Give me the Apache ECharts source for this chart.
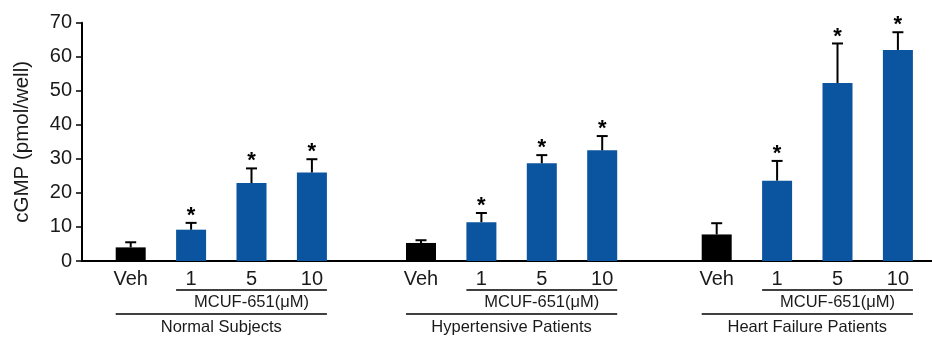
<!DOCTYPE html>
<html>
<head>
<meta charset="utf-8">
<script src="https://cdn.jsdelivr.net/npm/echarts@6/dist/echarts.min.js"></script>
<style>
  html, body { margin: 0; padding: 0; background: #fff; }
  #chart { width: 932px; height: 337px; }
</style>
</head>
<body>
<div id="chart"></div>
<script>
// data
const categories = ['Veh', '1', '5', '10'];
const groupNames = ['Normal Subjects', 'Hypertensive Patients', 'Heart Failure Patients'];
const doseLabel = 'MCUF-651(μM)';
const normalMean = [4.0, 9.2, 22.9, 26.0];
const normalSem = [1.5, 2.0, 4.3, 3.9];
const hyperMean = [5.3, 11.4, 28.7, 32.5];
const hyperSem = [0.8, 2.7, 2.4, 4.2];
const hfMean = [7.8, 23.6, 52.3, 62.0];
const hfSem = [3.3, 5.8, 11.6, 5.2];
const significant = [false, true, true, true];
const yTicks = [0, 10, 20, 30, 40, 50, 60, 70];

const means = [normalMean, hyperMean, hfMean];
const sems = [normalSem, hyperSem, hfSem];

const FONT = '"Liberation Sans", Arial, sans-serif';
const BLUE = '#0a54a0';
const TXT = '#1a1a1a';
const TOP = 22.7, BOTTOM = 76;
const groupLeft = [100.5, 390.8, 686.5];
const groupWidth = 241.6;
const barW = 30;

const chart = echarts.init(document.getElementById('chart'));

const grids = [{ left: 82, right: 0, top: TOP, bottom: BOTTOM }];
const xAxes = [{
    gridIndex: 0, type: 'value', min: 0, max: 1,
    axisLine: { show: true, lineStyle: { color: '#000', width: 2 } },
    axisTick: { show: false }, axisLabel: { show: false }, splitLine: { show: false }
}];
const yAxes = [{
    gridIndex: 0, type: 'value', min: yTicks[0], max: yTicks[yTicks.length - 1], interval: 10,
    name: 'cGMP (pmol/well)', nameLocation: 'middle', nameGap: 49,
    nameTextStyle: { fontFamily: FONT, fontSize: 20.5, color: TXT },
    axisLine: { show: true, lineStyle: { color: '#000', width: 2 } },
    axisTick: { show: true, inside: false, length: 6, lineStyle: { color: '#000', width: 1.5 } },
    axisLabel: { fontFamily: FONT, fontSize: 20, color: TXT, margin: 10 },
    splitLine: { show: false }
}];
const series = [];

for (let g = 0; g < 3; g++) {
    const gi = g + 1;
    grids.push({ left: groupLeft[g], width: groupWidth, top: TOP, bottom: BOTTOM });
    xAxes.push({
        gridIndex: gi, type: 'category', data: categories,
        axisLine: { show: false }, axisTick: { show: false },
        axisLabel: { fontFamily: FONT, fontSize: 20, color: TXT, margin: 8, interval: 0 }
    });
    yAxes.push({ gridIndex: gi, type: 'value', min: 0, max: 70, show: false });
    series.push({
        type: 'bar', xAxisIndex: gi, yAxisIndex: gi, barWidth: barW, z: 3,
        data: means[g].map((v, i) => ({ value: v, itemStyle: { color: i === 0 ? '#000' : BLUE } }))
    });
    series.push({
        type: 'custom', xAxisIndex: gi, yAxisIndex: gi, z: 4,
        data: means[g].map((v, i) => [i, v, v + sems[g][i], significant[i] ? 1 : 0]),
        renderItem: function (params, api) {
            const base = api.coord([api.value(0), api.value(1)]);
            const top = api.coord([api.value(0), api.value(2)]);
            const children = [
                { type: 'line', shape: { x1: base[0], y1: base[1], x2: top[0], y2: top[1] },
                  style: { stroke: '#000', lineWidth: 2 } },
                { type: 'line', shape: { x1: top[0] - 5.5, y1: top[1], x2: top[0] + 5.5, y2: top[1] },
                  style: { stroke: '#000', lineWidth: 2 } }
            ];
            if (api.value(3)) {
                children.push({
                    type: 'text', x: top[0], y: top[1] - 7,
                    style: { text: '*', fontFamily: FONT, fontSize: 22, fontWeight: 'bold',
                             fill: '#000', align: 'center', verticalAlign: 'middle' }
                });
            }
            return { type: 'group', children: children };
        }
    });
}

chart.setOption({
    animation: false,
    grid: grids,
    xAxis: xAxes,
    yAxis: yAxes,
    series: series
});

// group brackets under the axis, placed from the category positions
const graphics = [];
for (let g = 0; g < 3; g++) {
    const ax = { xAxisIndex: g + 1 };
    const xVeh = chart.convertToPixel(ax, categories[0]) - barW / 2;
    const x1 = chart.convertToPixel(ax, categories[1]) - barW / 2;
    const x10 = chart.convertToPixel(ax, categories[3]) + barW / 2;
    graphics.push({ type: 'line', shape: { x1: x1, y1: 290, x2: x10, y2: 290 }, style: { stroke: '#000', lineWidth: 1.5 } });
    graphics.push({ type: 'text', x: (x1 + x10) / 2, y: 302.5,
        style: { text: doseLabel, fontFamily: FONT, fontSize: 16.5, fill: TXT, align: 'center', verticalAlign: 'middle' } });
    graphics.push({ type: 'line', shape: { x1: xVeh, y1: 314, x2: x10, y2: 314 }, style: { stroke: '#000', lineWidth: 1.5 } });
    graphics.push({ type: 'text', x: (xVeh + x10) / 2, y: 327.5,
        style: { text: groupNames[g], fontFamily: FONT, fontSize: 16.5, fill: TXT, align: 'center', verticalAlign: 'middle' } });
}
chart.setOption({ graphic: graphics });
</script>
</body>
</html>
